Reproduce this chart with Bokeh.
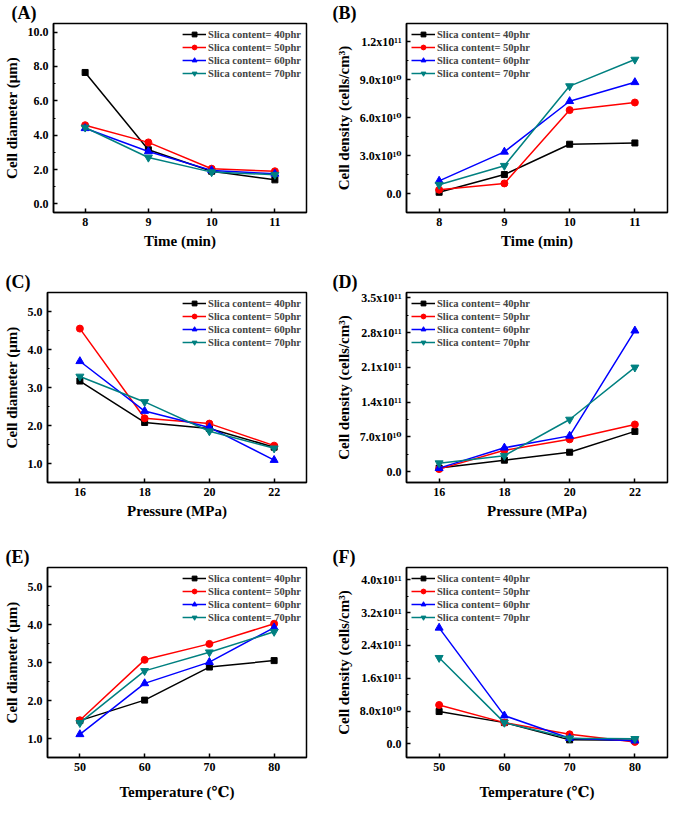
from bokeh.plotting import figure
from bokeh.layouts import column, row
from bokeh.models import FixedTicker, PrintfTickFormatter, Range1d, Legend, LegendItem
from bokeh.embed import file_html
from bokeh.resources import INLINE

# ---------------- data ----------------
time_min = [8, 9, 10, 11]
pressure_mpa = [16, 18, 20, 22]
temperature_c = [50, 60, 70, 80]
series_labels = ["Slica content= 40phr", "Slica content= 50phr",
                 "Slica content= 60phr", "Slica content= 70phr"]

# (A) cell diameter vs time (um)
diam_time_40 = [7.65, 3.15, 1.90, 1.40]
diam_time_50 = [4.58, 3.58, 2.05, 1.90]
diam_time_60 = [4.40, 3.05, 1.95, 1.75]
diam_time_70 = [4.45, 2.70, 1.85, 1.70]

# (B) cell density vs time (x1e10 cells/cm3)
dens_time_40 = [0.1, 1.5, 3.9, 4.0]
dens_time_50 = [0.3, 0.8, 6.6, 7.2]
dens_time_60 = [1.0, 3.3, 7.3, 8.8]
dens_time_70 = [0.7, 2.2, 8.5, 10.6]

# (C) cell diameter vs pressure (um)
diam_press_40 = [3.17, 2.08, 1.92, 1.43]
diam_press_50 = [4.55, 2.19, 2.05, 1.47]
diam_press_60 = [3.69, 2.38, 1.95, 1.09]
diam_press_70 = [3.29, 2.62, 1.85, 1.40]

# (D) cell density vs pressure (x1e10 cells/cm3)
dens_press_40 = [0.7, 2.3, 3.9, 8.1]
dens_press_50 = [0.5, 4.3, 6.5, 9.5]
dens_press_60 = [0.7, 4.8, 7.2, 28.4]
dens_press_70 = [1.7, 3.2, 10.5, 21.0]

# (E) cell diameter vs temperature (um)
diam_temp_40 = [1.47, 2.01, 2.88, 3.05]
diam_temp_50 = [1.48, 3.07, 3.49, 4.02]
diam_temp_60 = [1.11, 2.45, 3.01, 3.92]
diam_temp_70 = [1.41, 2.78, 3.27, 3.81]

# (F) cell density vs temperature (x1e10 cells/cm3)
dens_temp_40 = [7.9, 5.2, 1.0, 0.9]
dens_temp_50 = [9.5, 5.2, 2.35, 0.5]
dens_temp_60 = [28.3, 6.9, 1.4, 0.8]
dens_temp_70 = [21.0, 5.2, 1.4, 1.25]

# tick labels
ticks_B = [0, 3, 6, 9, 12]
labels_B = ["0.0", "3.0x10¹⁰", "6.0x10¹⁰", "9.0x10¹⁰", "1.2x10¹¹"]
ticks_D = [0, 7, 14, 21, 28, 35]
labels_D = ["0.0", "7.0x10¹⁰", "1.4x10¹¹", "2.1x10¹¹", "2.8x10¹¹", "3.5x10¹¹"]
ticks_F = [0, 8, 16, 24, 32, 40]
labels_F = ["0.0", "8.0x10¹⁰", "1.6x10¹¹", "2.4x10¹¹", "3.2x10¹¹", "4.0x10¹¹"]

# ---------------- style ----------------
FONT = "'Liberation Serif', 'DejaVu Serif', serif"
COLORS = ["#000000", "#FF0000", "#0000FF", "#008080"]
MARKERS = ["square", "circle", "triangle", "inverted_triangle"]
MSIZES = [6, 7, 8, 8]


def make_panel(tag, xs, ys_list, xr, yr, xticks, yticks, ylabels, xlabel, ylabel,
               legend_loc, width, height, borders, xlabel_standoff=4):
    bl, br, bt, bb = borders
    p = figure(width=width, height=height, output_backend="svg", toolbar_location=None,
               x_range=Range1d(*xr), y_range=Range1d(*yr),
               min_border_left=bl, min_border_right=br, min_border_top=bt, min_border_bottom=bb)
    p.xgrid.visible = False
    p.ygrid.visible = False
    p.outline_line_color = "black"
    p.outline_line_width = 1.5
    p.background_fill_color = "white"
    p.border_fill_color = "white"

    p.title.text = tag
    p.title.align = "left"
    p.title.offset = -bl + 2
    p.title.standoff = 1
    p.title.text_font = FONT
    p.title.text_font_style = "bold"
    p.title.text_font_size = "18px"
    p.title.text_color = "black"

    items = []
    for ys, c, m, s, lab in zip(ys_list, COLORS, MARKERS, MSIZES, series_labels):
        r1 = p.line(xs, ys, line_color=c, line_width=1.5)
        r2 = p.scatter(xs, ys, marker=m, size=s, fill_color=c, line_color=c)
        items.append(LegendItem(label=lab, renderers=[r1, r2]))

    leg = Legend(items=items, location=legend_loc)
    leg.label_text_font = FONT
    leg.label_text_font_style = "bold"
    leg.label_text_font_size = "10.5px"
    leg.label_height = 12
    leg.glyph_height = 12
    leg.glyph_width = 24
    leg.label_standoff = 2
    leg.spacing = 1
    leg.padding = 2
    leg.margin = 3
    leg.border_line_alpha = 0
    leg.background_fill_alpha = 0
    p.add_layout(leg)

    # x axis
    xa = p.xaxis[0]
    xa.ticker = FixedTicker(ticks=xticks, minor_ticks=[])
    xa.axis_label = xlabel
    # y axis
    ya = p.yaxis[0]
    minor = []
    for a, b in zip(yticks[:-1], yticks[1:]):
        minor.append((a + b) / 2)
    step = yticks[1] - yticks[0]
    minor.append(yticks[0] - step / 2)
    minor.append(yticks[-1] + step / 2)
    ya.ticker = FixedTicker(ticks=yticks, minor_ticks=minor)
    if ylabels is None:
        ya.formatter = PrintfTickFormatter(format="%.1f")
    else:
        ya.major_label_overrides = {float(t): l for t, l in zip(yticks, ylabels)}
    ya.axis_label = ylabel

    for ax in (xa, ya):
        ax.axis_line_width = 1.5
        ax.major_tick_line_width = 1.5
        ax.minor_tick_line_width = 1.2
        ax.major_tick_in = 4
        ax.major_tick_out = 0
        ax.minor_tick_in = 2
        ax.minor_tick_out = 0
        ax.major_label_text_font = FONT
        ax.major_label_text_font_style = "bold"
        ax.major_label_text_font_size = "12px"
        ax.major_label_text_color = "black"
        ax.axis_label_text_font = FONT
        ax.axis_label_text_font_style = "bold"
        ax.axis_label_text_font_size = "15px"
        ax.axis_label_text_color = "black"
        ax.major_label_standoff = 5
    xa.minor_tick_line_alpha = 0
    xa.axis_label_standoff = xlabel_standoff
    ya.axis_label_standoff = 5
    return p


W1, W2 = 330, 339
B1 = (44, 24)
B2 = (76, 2)

pA = make_panel("(A)", time_min, [diam_time_40, diam_time_50, diam_time_60, diam_time_70],
                (7.5, 11.5), (-0.5, 10.5), time_min, [0, 2, 4, 6, 8, 10], None,
                "Time (min)", "Cell diameter (μm)", "top_right", W1, 260, (*B1, 22, 48))
pB = make_panel("(B)", time_min, [dens_time_40, dens_time_50, dens_time_60, dens_time_70],
                (7.5, 11.5), (-1.5, 13.45), time_min, ticks_B, labels_B,
                "Time (min)", "Cell density (cells/cm³)", "top_left", W2, 260, (*B2, 22, 48))
pC = make_panel("(C)", pressure_mpa, [diam_press_40, diam_press_50, diam_press_60, diam_press_70],
                (15, 23), (0.5, 5.5), pressure_mpa, [1, 2, 3, 4, 5], None,
                "Pressure (MPa)", "Cell diameter (μm)", "top_right", W1, 270, (*B1, 32, 48))
pD = make_panel("(D)", pressure_mpa, [dens_press_40, dens_press_50, dens_press_60, dens_press_70],
                (15, 23), (-2.2, 36.1), pressure_mpa, ticks_D, labels_D,
                "Pressure (MPa)", "Cell density (cells/cm³)", "top_left", W2, 270, (*B2, 32, 48))
pE = make_panel("(E)", temperature_c, [diam_temp_40, diam_temp_50, diam_temp_60, diam_temp_70],
                (45, 85), (0.5, 5.5), temperature_c, [1, 2, 3, 4, 5], None,
                "Temperature (℃)", "Cell diameter (μm)", "top_right", W1, 273, (*B1, 37, 46),
                xlabel_standoff=10)
pF = make_panel("(F)", temperature_c, [dens_temp_40, dens_temp_50, dens_temp_60, dens_temp_70],
                (45, 85), (-3.3, 43.0), temperature_c, ticks_F, labels_F,
                "Temperature (℃)", "Cell density (cells/cm³)", "top_left", W2, 273, (*B2, 37, 46),
                xlabel_standoff=10)

layout = column(row(pA, pB), row(pC, pD), row(pE, pF))
open("out.html", "w").write(file_html(layout, INLINE))
